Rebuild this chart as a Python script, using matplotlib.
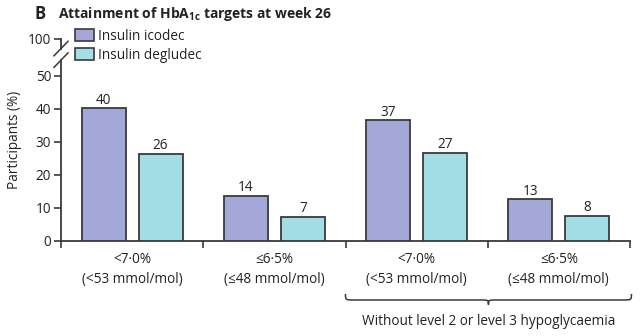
import numpy as np
import matplotlib
matplotlib.use("Agg")
from matplotlib import pyplot as plt
from matplotlib.path import Path
from matplotlib.patches import PathPatch, Patch
import matplotlib.transforms as mtransforms

plt.rcParams['font.family'] = ['Open Sans', 'DejaVu Sans']
plt.rcParams['mathtext.fontset'] = 'custom'
plt.rcParams['mathtext.rm'] = 'Open Sans'
plt.rcParams['mathtext.bf'] = 'Open Sans:bold'

# data
categories = ["<7·0%\n(<53 mmol/mol)", "≤6·5%\n(≤48 mmol/mol)",
              "<7·0%\n(<53 mmol/mol)", "≤6·5%\n(≤48 mmol/mol)"]
icodec = [40.2, 13.6, 36.6, 12.6]
degludec = [26.4, 7.4, 26.8, 7.7]
icodec_labels = ["40", "14", "37", "13"]
degludec_labels = ["26", "7", "27", "8"]
series_names = ["Insulin icodec", "Insulin degludec"]
ytick_vals = [0, 10, 20, 30, 40, 50]
top_val = 61.2  # position where "100" sits after the axis break

c_ico = "#a4a8d8"
c_deg = "#a3dde5"
edge = "#3a3a3a"
txt = "#222222"
fs = 9.8

fig = plt.figure(figsize=(6.41, 3.36), dpi=100)
ax = fig.add_axes([61/641, 95/336, 569/641, 202/336])

x = np.arange(len(categories))
w = 0.31
off = 0.2
b1 = ax.bar(x - off, icodec, w, color=c_ico, edgecolor=edge, linewidth=1.3, zorder=3)
b2 = ax.bar(x + off, degludec, w, color=c_deg, edgecolor=edge, linewidth=1.3, zorder=3)
for bars, labs in ((b1, icodec_labels), (b2, degludec_labels)):
    for r, lab in zip(bars, labs):
        ax.annotate(lab, (r.get_x() + r.get_width()/2, r.get_height()),
                    xytext=(0, 0.5), textcoords="offset points",
                    ha="center", va="bottom", fontsize=fs, color=txt)

ax.set_xlim(-0.5, len(categories) - 0.5)
ax.set_ylim(0, top_val)

for s in ("top", "right"):
    ax.spines[s].set_visible(False)
ax.spines["left"].set_bounds(0, 54.8)
ax.spines["bottom"].set_linewidth(1.3)
ax.spines["left"].set_linewidth(1.3)
ax.spines["left"].set_color(edge)
ax.spines["bottom"].set_color(edge)

ax.set_yticks(ytick_vals + [top_val])
ax.set_yticklabels([str(v) for v in ytick_vals] + ["100"], fontsize=fs, color=txt)
ax.tick_params(axis="y", length=5, width=1.2, color=edge, pad=2)

ax.set_xticks(np.arange(len(categories) + 1) - 0.5)
ax.set_xticklabels([])
ax.tick_params(axis="x", length=5, width=1.2, color=edge)
for i, lab in enumerate(categories):
    ax.text(i, -0.055, lab, transform=ax.get_xaxis_transform(), ha="center",
            va="top", fontsize=fs, color=txt, linespacing=1.45)

# broken axis: top stub and slashes
tb = mtransforms.blended_transform_factory(ax.transAxes, ax.transData)
ax.plot([0, 0], [58.3, top_val], transform=tb, color=edge, lw=1.3, clip_on=False)
dx = 7/569
for yc in (58.3, 54.8):
    ax.plot([-dx, dx], [yc - 2.2, yc + 2.2], transform=tb, color=edge, lw=1.1,
            clip_on=False)

ax.set_ylabel("Participants (%)", fontsize=fs, color=txt)
ax.yaxis.set_label_coords(-0.068, 0.5)

# brace under the last two groups
bt = ax.get_xaxis_transform()
x0, x1 = 1.5, 3.51
xc = (x0 + x1) / 2
yt, ym, yb = -0.262, -0.292, -0.315
r = 0.06
verts = [(x0, yt), (x0, ym), (x0, ym), (x0 + r, ym),
         (xc - r, ym), (xc, ym), (xc, ym), (xc, yb),
         (xc, ym), (xc, ym), (xc + r, ym),
         (x1 - r, ym), (x1, ym), (x1, ym), (x1, yt)]
codes = [Path.MOVETO, Path.CURVE4, Path.CURVE4, Path.CURVE4,
         Path.LINETO, Path.CURVE4, Path.CURVE4, Path.CURVE4,
         Path.CURVE4, Path.CURVE4, Path.CURVE4,
         Path.LINETO, Path.CURVE4, Path.CURVE4, Path.CURVE4]
ax.add_patch(PathPatch(Path(verts, codes), transform=bt, fill=False,
                       edgecolor=edge, lw=1.1, clip_on=False))
ax.text(xc, -0.36, "Without level 2 or level 3 hypoglycaemia", transform=bt,
        ha="center", va="top", fontsize=fs, color=txt)

# legend
handles = [Patch(facecolor=c_ico, edgecolor=edge, linewidth=1.2),
           Patch(facecolor=c_deg, edgecolor=edge, linewidth=1.2)]
ax.legend(handles, series_names, loc="upper left", bbox_to_anchor=(0.024, 1.05),
          frameon=False, fontsize=fs, handlelength=1.4, handleheight=0.95,
          handletextpad=0.35, labelspacing=0.3, borderpad=0, borderaxespad=0,
          labelcolor=txt)

fig.text(35/641, 1 - 14/336, "B", fontsize=12, fontweight="bold", va="center",
         color=txt)
fig.text(58/641, 1 - 14/336, r"Attainment of HbA$_{\mathbf{1c}}$ targets at week 26",
         fontsize=10, fontweight="bold", va="center", color=txt)

fig.savefig("out.png", dpi=100)
